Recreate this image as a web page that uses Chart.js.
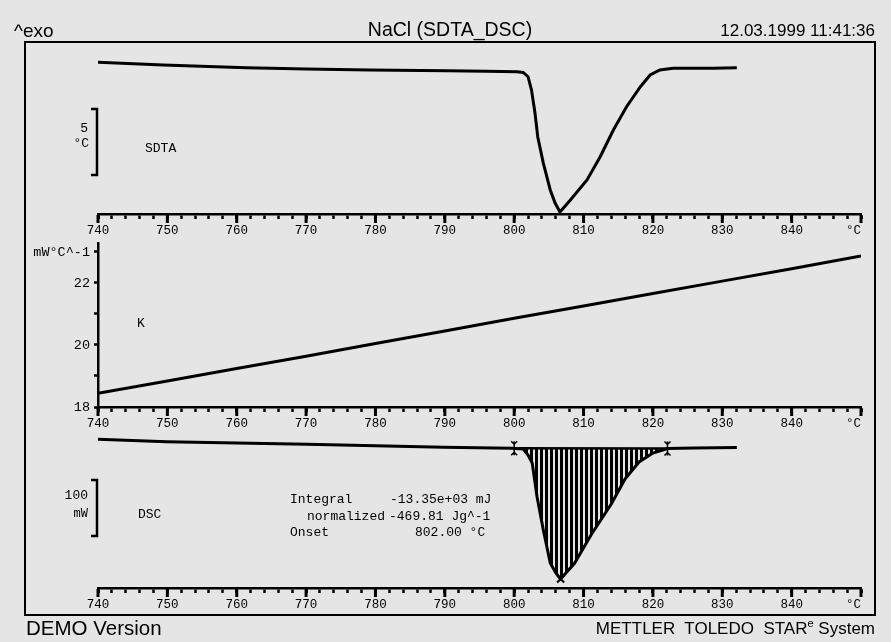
<!DOCTYPE html>
<html><head><meta charset="utf-8">
<script src="https://cdn.jsdelivr.net/npm/chart.js@4.4.1/dist/chart.umd.min.js"></script>
<style>
html,body{margin:0;padding:0;background:#e5e5e5;}
#wrap{position:relative;width:891px;height:642px;overflow:hidden;background:#e5e5e5;}
canvas{position:absolute;left:0;top:0;}
.t{position:absolute;white-space:pre;color:#000;line-height:1;transform:translateY(-50%);}
.hdr{font-family:"Liberation Sans",Arial,sans-serif;font-size:18px;}
.mono{font-family:"Liberation Mono","DejaVu Sans Mono",monospace;font-size:13px;}
#frame{position:absolute;left:24px;top:41px;width:848px;height:571px;border:2px solid #000;}
sup{font-size:11px;vertical-align:7px;line-height:0;}
</style></head><body>
<div id="wrap">
<div id="frame"></div>
<canvas id="c1" width="891" height="642"></canvas>
<canvas id="c2" width="891" height="642"></canvas>
<canvas id="c3" width="891" height="642"></canvas>

<div class="t hdr" style="left:14px;top:30px;font-size:19px;">^exo</div>
<div class="t hdr" style="left:450px;top:30px;transform:translate(-50%,-50%);font-size:19.5px;">NaCl (SDTA_DSC)</div>
<div class="t hdr" style="right:16px;top:30px;font-size:17px;">12.03.1999 11:41:36</div>

<div class="t mono" style="right:803px;top:128px;">5</div>
<div class="t mono" style="right:802px;top:143px;">°C</div>
<div class="t mono" style="left:145px;top:148px;">SDTA</div>

<div class="t mono" style="left:137px;top:323px;">K</div>

<div class="t mono" style="right:803px;top:495px;">100</div>
<div class="t mono" style="right:803px;top:514px;font-size:12px;">mW</div>
<div class="t mono" style="left:138px;top:514px;">DSC</div>

<div class="t mono" style="left:290px;top:499px;">Integral</div>
<div class="t mono" style="left:390px;top:499px;">-13.35e+03 mJ</div>
<div class="t mono" style="left:307px;top:516px;">normalized</div>
<div class="t mono" style="left:389px;top:516px;">-469.81 Jg^-1</div>
<div class="t mono" style="left:290px;top:532px;">Onset</div>
<div class="t mono" style="left:415px;top:532px;">802.00 °C</div>

<div class="t hdr" style="left:26px;top:628px;font-size:20.5px;">DEMO Version</div>
<div class="t hdr" style="right:16px;top:628px;font-size:17px;">METTLER  TOLEDO  STAR<sup>e</sup> System</div>
</div>

<script>
// ---------- data ----------
const tempTickLabels = ['740','750','760','770','780','790','800','810','820','830','840'];
const tempUnit = '°C';

// SDTA signal (°C, arbitrary offset)
const sdtaT = [740, 749.4, 761.4, 770, 779.2, 790.3, 796, 800.4, 801.3, 802.0, 802.5, 803.0, 803.4, 804.2, 805.2, 805.9, 806.6, 808.1, 810.5, 812.4, 814.3, 816.2, 818.2, 819.6, 821.0, 822.9, 828.7, 832.1];
const sdtaV = [11.49, 11.29, 11.08, 10.98, 10.91, 10.86, 10.82, 10.77, 10.72, 10.40, 9.39, 7.65, 5.83, 3.86, 1.82, 0.83, 0.15, 1.06, 2.58, 4.34, 6.36, 8.13, 9.64, 10.53, 10.91, 11.04, 11.04, 11.08];
const sdtaScaleBar = [2.95, 7.95]; // 5 °C

// K (mW/°C)
const kT = [740, 750, 760, 770, 780, 790, 800, 810, 820, 830, 840, 850];
const kV = [18.44, 18.84, 19.24, 19.64, 20.05, 20.45, 20.86, 21.26, 21.66, 22.06, 22.46, 22.87];
const kTickValues = [18, 20, 22];
const kUnit = 'mW°C^-1';

// DSC (mW, arbitrary offset)
const dscT = [740, 749.9, 770.1, 789.8, 799.6, 801.3, 802.0, 802.6, 803.3, 804.2, 805.2, 806.0, 806.7, 808.7, 811.1, 814.0, 816.0, 818.0, 820.0, 822.1, 826, 832.1];
const dscV = [265.5, 261.3, 256.6, 251.3, 249.5, 248.2, 237.5, 223.2, 162.5, 103.6, 44.6, 26.8, 16.0, 44.0, 95.0, 150.0, 195.0, 225.0, 241.0, 249.1, 250.0, 250.9];
const dscLimits = [800.0, 822.1];
const dscBaseline = [249.5, 249.1];
const dscPeak = [806.7, 16.0];
const dscScaleBar = [92.9, 192.9]; // 100 mW

// ---------- helpers ----------
const MONO = '"Liberation Mono","DejaVu Sans Mono",monospace';
function pts(xs, ys){ return xs.map((x,i)=>({x:x, y:ys[i]})); }

function xScale(){
  return {
    type:'linear', position:'bottom', min:740, max:850,
    afterBuildTicks(s){ const t=[]; for(let v=740; v<=850; v+=2) t.push({value:v}); s.ticks=t; },
    afterFit(s){ s.height = 26; },
    grid:{ drawOnChartArea:false, drawTicks:true, tickLength:5, color:'#000',
           tickWidth: c => (c.tick && c.tick.value % 10 === 0) ? 3 : 2.5 },
    border:{ display:true, color:'#000', width:2.5 },
    ticks:{ autoSkip:false, maxRotation:0, minRotation:0, padding:4, color:'#000',
            font:{ family:MONO, size:12.5 },
            callback(v){
              if (v === 850) return tempUnit + '  ';
              const i = (v - 740) / 10;
              return Number.isInteger(i) ? tempTickLabels[i] : '';
            } }
  };
}

const majorTicks = {
  id:'majorTicks',
  afterDraw(chart){
    const s = chart.scales.x, ctx = chart.ctx;
    const y0 = s.top + 1;
    ctx.save(); ctx.strokeStyle='#000'; ctx.lineWidth=3;
    for (const t of s.ticks){
      if (t.value % 10 === 0){
        const x = s.getPixelForValue(t.value);
        ctx.beginPath(); ctx.moveTo(x, y0); ctx.lineTo(x, y0 + 8); ctx.stroke();
      }
    }
    ctx.restore();
  }
};

const bracket = {
  id:'bracket',
  afterDraw(chart, args, opts){
    if (!opts || !opts.range) return;
    const ys = chart.scales.y, ctx = chart.ctx;
    const x = chart.chartArea.left - 1;
    const y1 = ys.getPixelForValue(opts.range[1]), y2 = ys.getPixelForValue(opts.range[0]);
    ctx.save(); ctx.strokeStyle='#000'; ctx.lineWidth=2.5; ctx.lineCap='butt';
    ctx.beginPath();
    ctx.moveTo(x-6, y1); ctx.lineTo(x, y1); ctx.lineTo(x, y2); ctx.lineTo(x-6, y2);
    ctx.stroke(); ctx.restore();
  }
};

const limits = {
  id:'limits',
  afterDatasetsDraw(chart, args, opts){
    if (!opts || !opts.at) return;
    const xs = chart.scales.x, ys = chart.scales.y, ctx = chart.ctx;
    ctx.save(); ctx.strokeStyle='#000'; ctx.lineWidth=1.5;
    opts.at.forEach((t,i)=>{
      const x = xs.getPixelForValue(t), y = ys.getPixelForValue(opts.base[i]);
      ctx.beginPath();
      ctx.moveTo(x, y-7); ctx.lineTo(x, y+7);
      ctx.moveTo(x-3, y-7); ctx.lineTo(x, y-4); ctx.lineTo(x+3, y-7);
      ctx.moveTo(x-3, y+7); ctx.lineTo(x, y+4); ctx.lineTo(x+3, y+7);
      ctx.stroke();
    });
    ctx.restore();
  }
};

function baseOpts(padding, yScale){
  return {
    responsive:false, animation:false, events:[], devicePixelRatio:1,
    layout:{ padding },
    plugins:{ legend:{display:false}, tooltip:{enabled:false} },
    scales:{ x: xScale(), y: yScale },
    elements:{ point:{ radius:0 }, line:{ borderColor:'#000', borderWidth:3, tension:0 } }
  };
}

// ---------- SDTA ----------
const o1 = baseOpts({left:98, right:30, top:42, bottom:402}, { type:'linear', display:false, min:0, max:13.03 });
o1.plugins.bracket = { range: sdtaScaleBar };
new Chart(document.getElementById('c1'), {
  type:'line',
  data:{ datasets:[{ data: pts(sdtaT, sdtaV), borderColor:'#000', borderWidth:3, pointRadius:0, fill:false }] },
  options:o1,
  plugins:[majorTicks, bracket]
});

// ---------- K ----------
const o2 = baseOpts({left:0, right:30, top:243, bottom:209}, {
  type:'linear', position:'left', min:18, max:23.29,
  afterBuildTicks(s){ s.ticks=[18,19,20,21,22,23].map(v=>({value:v})); },
  afterFit(s){ s.width = 98; },
  grid:{ drawOnChartArea:false, drawTicks:true, tickLength:4, color:'#000', tickWidth:2.5 },
  border:{ display:true, color:'#000', width:2.5 },
  ticks:{ padding:4, color:'#000', font:{ family:MONO, size:13.5 },
          callback(v){ if (v === 23) return kUnit; return kTickValues.includes(v) ? String(v) : ''; } }
});
new Chart(document.getElementById('c2'), {
  type:'line',
  data:{ datasets:[{ data: pts(kT, kV), borderColor:'#000', borderWidth:3, pointRadius:0, fill:false }] },
  options:o2,
  plugins:[majorTicks]
});

// ---------- DSC ----------
const c3 = document.getElementById('c3');
const pc = document.createElement('canvas'); pc.width = 5; pc.height = 4;
const pctx = pc.getContext('2d'); pctx.fillStyle = '#000'; pctx.fillRect(0, 0, 3, 4);
const hatch = c3.getContext('2d').createPattern(pc, 'repeat');

const peakIdx = dscT.map((t,i)=>i).filter(i => dscT[i] >= dscLimits[0] && dscT[i] <= dscLimits[1]);
const hatchPts = [{x:dscLimits[0], y:dscBaseline[0]}].concat(peakIdx.map(i=>({x:dscT[i], y:dscV[i]})));

const o3 = baseOpts({left:98, right:30, top:420, bottom:28}, { type:'linear', display:false, min:0, max:300 });
o3.plugins.bracket = { range: dscScaleBar };
o3.plugins.limits = { at: dscLimits, base: dscBaseline };
o3.plugins.filler = { propagate:false };
new Chart(c3, {
  type:'line',
  data:{ datasets:[
    { data: pts(dscT, dscV), borderColor:'#000', borderWidth:3, pointRadius:0, fill:false },
    { data: hatchPts, borderWidth:0, borderColor:'rgba(0,0,0,0)', pointRadius:0, fill:{ target:2 }, backgroundColor: hatch },
    { data: pts(dscLimits, dscBaseline), borderColor:'#000', borderWidth:2.5, pointRadius:0, fill:false },
    { data: [{x:dscPeak[0], y:dscPeak[1]}], showLine:false, pointRadius:5, pointStyle:'crossRot', pointBorderColor:'#000', pointBorderWidth:2 }
  ] },
  options:o3,
  plugins:[majorTicks, bracket, limits]
});
</script>
</body></html>
